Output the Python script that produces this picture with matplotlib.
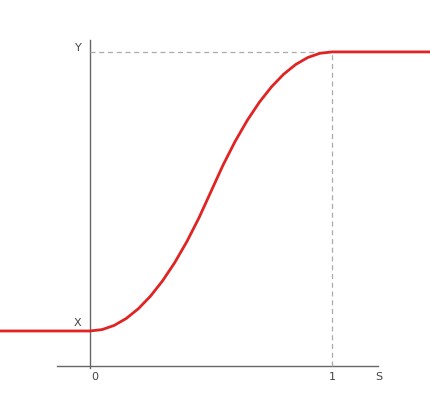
import matplotlib
matplotlib.use("Agg")
import matplotlib.pyplot as plt

s_vals = [-0.4, 0, 0.05, 0.1, 0.15, 0.2, 0.25, 0.3, 0.35, 0.4, 0.45, 0.5, 0.55, 0.6, 0.65, 0.7, 0.75, 0.8, 0.85, 0.9, 0.95, 1.0, 1.45]
y_vals = [0, 0, 0.005, 0.02, 0.045, 0.08, 0.125, 0.18, 0.245, 0.32, 0.405, 0.5, 0.595, 0.68, 0.755, 0.82, 0.875, 0.92, 0.955, 0.98, 0.995, 1.0, 1.0]

fig = plt.figure(figsize=(4.31, 4.20), dpi=100)
ax = fig.add_axes([0, 0, 1, 1])
ax.set_xlim(-0.372, 1.409)
ax.set_ylim(-0.319, 1.186)
ax.axis("off")

gray = "#666666"
ax.plot([-0.136, 1.19], [-0.125, -0.125], color=gray, lw=1)
ax.plot([0, 0], [-0.133, 1.043], color=gray, lw=1)
ax.plot([0, 1], [1, 1], color="#aaaaaa", lw=0.9, ls=(0, (4, 3)))
ax.plot([1, 1], [-0.125, 1], color="#aaaaaa", lw=0.9, ls=(0, (4, 3)))
ax.plot(s_vals, y_vals, color="#e02424", lw=2)

fs = 8
ax.text(-0.05, 1.015, "Y", ha="center", va="center", fontsize=fs, color="#444")
ax.text(-0.05, 0.03, "X", ha="center", va="center", fontsize=fs, color="#444")
ax.text(0.02, -0.165, "0", ha="center", va="center", fontsize=fs, color="#444")
ax.text(1.0, -0.165, "1", ha="center", va="center", fontsize=fs, color="#444")
ax.text(1.195, -0.165, "S", ha="center", va="center", fontsize=fs, color="#444")

fig.savefig("out.png", dpi=100)
